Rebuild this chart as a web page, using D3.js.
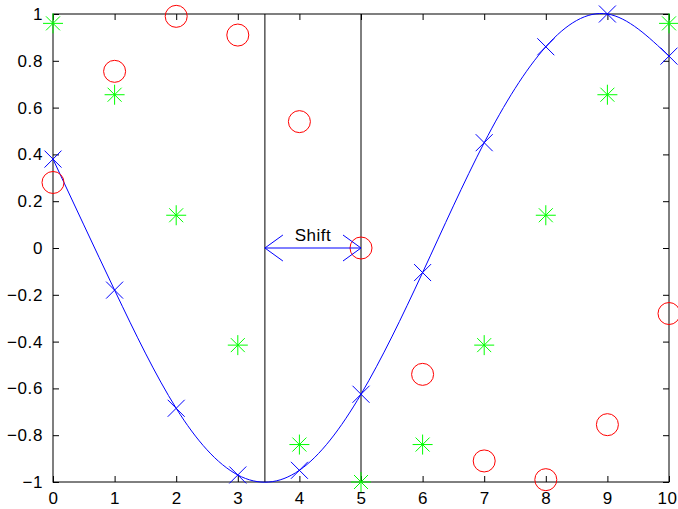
<!DOCTYPE html>
<html>
<head>
<meta charset="utf-8">
<script src="https://cdn.jsdelivr.net/npm/d3@7"></script>
<style>
  html, body { margin: 0; padding: 0; background: #fff; }
  svg { display: block; }
</style>
</head>
<body>
<svg id="chart" width="678" height="509"></svg>
<script>
// Sample positions shared by all three series
const xs = [0, 1, 2, 3, 4, 5, 6, 7, 8, 9, 10];
// Shifted cosine, drawn as a smooth line with x markers
const blueVals = [0.38, -0.18, -0.685, -0.97, -0.95, -0.625, -0.105, 0.45, 0.86, 1.00, 0.82];
// Sine samples, red circles
const redVals = [0.28, 0.755, 0.99, 0.91, 0.54, 0.0, -0.54, -0.91, -0.99, -0.755, -0.28];
// Negative cosine samples, green asterisks
const greenVals = [0.96, 0.655, 0.14, -0.415, -0.84, -1.0, -0.84, -0.415, 0.14, 0.655, 0.96];
// Shift markers: trough of the blue curve and the zero crossing of the red samples
const shiftFrom = 3.44;
const shiftTo = 5;
const shiftLabel = "Shift";
const xTicks = [0, 1, 2, 3, 4, 5, 6, 7, 8, 9, 10];
const yTicks = [-1, -0.8, -0.6, -0.4, -0.2, 0, 0.2, 0.4, 0.6, 0.8, 1];

const FONT = "'Liberation Sans', Arial, Helvetica, sans-serif";
const W = 678;
const svg = d3.select("#chart");
const L = 53, R = 669, T = 14, B = 482;
const x = d3.scaleLinear().domain([0, 10]).range([L, R]);
const y = d3.scaleLinear().domain([-1, 1]).range([B, T]);

const fmt = v => (v < 0 ? "\u2212" : "") + d3.format("~g")(Math.abs(v));

function styleAxis(g) {
  g.select(".domain").remove();
  g.attr("font-family", FONT).attr("font-size", 17);
  g.selectAll(".tick line").attr("stroke", "#000").attr("stroke-width", 1);
  g.selectAll(".tick text").attr("fill", "#000").attr("letter-spacing", "0.6px");
}

// Axes with inward ticks on all four sides
const tick = 6;
const bottomAxis = svg.append("g").attr("transform", `translate(0,${B})`)
  .call(d3.axisBottom(x).tickValues(xTicks).tickSizeInner(-tick).tickSizeOuter(0).tickPadding(tick + 4).tickFormat(fmt))
  .call(styleAxis);
// keep the last x label inside the canvas
bottomAxis.selectAll(".tick text").each(function () {
  const t = d3.select(this);
  const box = this.getBBox();
  const tx = x(+t.datum());
  const overflow = tx + box.x + box.width - (W - 1);
  if (overflow > 0) t.attr("dx", -overflow);
});
svg.append("g").attr("transform", `translate(0,${T})`)
  .call(d3.axisTop(x).tickValues(xTicks).tickSizeInner(-tick).tickSizeOuter(0).tickFormat(""))
  .call(styleAxis);
svg.append("g").attr("transform", `translate(${L},0)`)
  .call(d3.axisLeft(y).tickValues(yTicks).tickSizeInner(-tick).tickSizeOuter(0).tickPadding(tick + 4).tickFormat(fmt))
  .call(styleAxis);
svg.append("g").attr("transform", `translate(${R},0)`)
  .call(d3.axisRight(y).tickValues(yTicks).tickSizeInner(-tick).tickSizeOuter(0).tickFormat(""))
  .call(styleAxis);

// Vertical reference lines
[shiftFrom, shiftTo].forEach(v => {
  svg.append("line")
    .attr("x1", x(v)).attr("x2", x(v)).attr("y1", T).attr("y2", B)
    .attr("stroke", "#000").attr("stroke-width", 1);
});

// Axes box
svg.append("rect")
  .attr("x", L).attr("y", T).attr("width", R - L).attr("height", B - T)
  .attr("fill", "none").attr("stroke", "#000").attr("stroke-width", 1);

// Blue curve
const pts = xs.map((d, i) => [d, blueVals[i]]);
svg.append("path")
  .attr("d", d3.line().x(d => x(d[0])).y(d => y(d[1])).curve(d3.curveNatural)(pts))
  .attr("fill", "none").attr("stroke", "#0000ff").attr("stroke-width", 1);

// Blue x markers
const xm = 8.5;
svg.append("g").selectAll("path").data(pts).join("path")
  .attr("d", d => {
    const cx = x(d[0]), cy = y(d[1]);
    return `M${cx - xm},${cy - xm}L${cx + xm},${cy + xm}M${cx - xm},${cy + xm}L${cx + xm},${cy - xm}`;
  })
  .attr("stroke", "#0000ff").attr("stroke-width", 1).attr("fill", "none");

// Red circles
svg.append("g").selectAll("circle").data(xs.map((d, i) => [d, redVals[i]])).join("circle")
  .attr("cx", d => x(d[0])).attr("cy", d => y(d[1])).attr("r", 11)
  .attr("fill", "none").attr("stroke", "#ff0000").attr("stroke-width", 1);

// Green asterisks
const a = 10, ad = 7;
svg.append("g").selectAll("path").data(xs.map((d, i) => [d, greenVals[i]])).join("path")
  .attr("d", d => {
    const cx = x(d[0]), cy = y(d[1]);
    return `M${cx - a},${cy}L${cx + a},${cy}M${cx},${cy - a}L${cx},${cy + a}` +
      `M${cx - ad},${cy - ad}L${cx + ad},${cy + ad}M${cx - ad},${cy + ad}L${cx + ad},${cy - ad}`;
  })
  .attr("stroke", "#00ff00").attr("stroke-width", 1).attr("fill", "none");

// Double-headed shift arrow with label
const ax1 = x(shiftFrom), ax2 = x(shiftTo), ay = y(0);
const hx = 18, hy = 13;
svg.append("path")
  .attr("d", `M${ax1},${ay}L${ax2},${ay}` +
    `M${ax1 + hx},${ay - hy}L${ax1},${ay}L${ax1 + hx},${ay + hy}` +
    `M${ax2 - hx},${ay - hy}L${ax2},${ay}L${ax2 - hx},${ay + hy}`)
  .attr("stroke", "#0000ff").attr("stroke-width", 1).attr("fill", "none");
svg.append("text")
  .attr("x", (ax1 + ax2) / 2).attr("y", ay - 7)
  .attr("text-anchor", "middle")
  .attr("font-family", FONT).attr("font-size", 17).attr("letter-spacing", "0.5px")
  .attr("fill", "#000")
  .text(shiftLabel);
</script>
</body>
</html>
